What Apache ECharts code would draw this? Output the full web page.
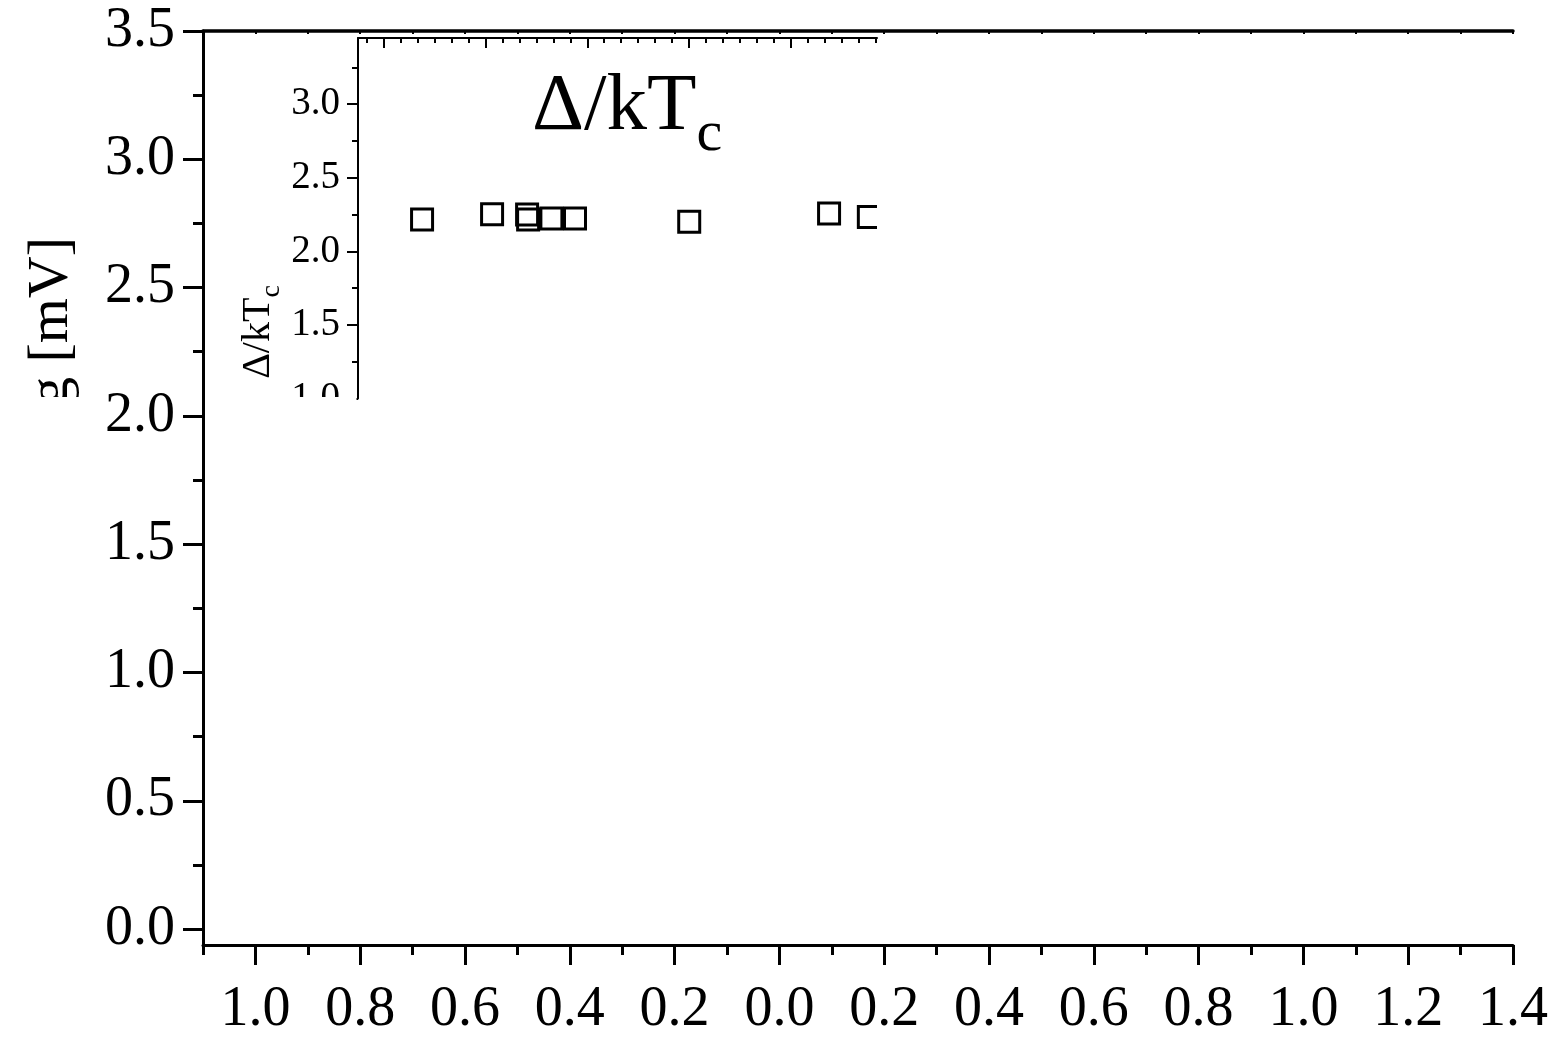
<!DOCTYPE html>
<html>
<head>
<meta charset="utf-8">
<script src="https://cdn.jsdelivr.net/npm/echarts@6.0.0/dist/echarts.min.js"></script>
<style>
  html, body { margin: 0; padding: 0; background: #ffffff; }
  #chart { width: 1558px; height: 1038px; }
</style>
</head>
<body>
<div id="chart"></div>
<script>
// ---- main panel ticks ----
const mainXMajor = [-1.0, -0.8, -0.6, -0.4, -0.2, 0.0, 0.2, 0.4, 0.6, 0.8, 1.0, 1.2, 1.4];
const mainXLabels = ['1.0', '0.8', '0.6', '0.4', '0.2', '0.0', '0.2', '0.4', '0.6', '0.8', '1.0', '1.2', '1.4'];
const mainXMinor = [-1.1, -0.9, -0.7, -0.5, -0.3, -0.1, 0.1, 0.3, 0.5, 0.7, 0.9, 1.1, 1.3];
const mainYMajor = [0.0, 0.5, 1.0, 1.5, 2.0, 2.5, 3.0, 3.5];
const mainYLabels = ['0.0', '0.5', '1.0', '1.5', '2.0', '2.5', '3.0', '3.5'];
const mainYMinor = [0.25, 0.75, 1.25, 1.75, 2.25, 2.75, 3.25];

// ---- inset ticks ----
const insetXMajor = [6, 12, 18, 24, 30];
const insetXMinor = [5, 7, 8, 9, 10, 11, 13, 14, 15, 16, 17, 19, 20, 21, 22, 23, 25, 26, 27, 28, 29, 31, 32, 33, 34, 35];
const insetYMajor = [1.0, 1.5, 2.0, 2.5, 3.0];
const insetYLabels = ['1.0', '1.5', '2.0', '2.5', '3.0'];
const insetYMinor = [1.25, 1.75, 2.25, 2.75, 3.25];

// ---- inset data: gap ratio ----
const insetX = [8.28, 12.40, 14.46, 14.52, 15.89, 17.28, 24.0, 32.23, 34.57];
const insetY = [2.216, 2.253, 2.250, 2.216, 2.223, 2.223, 2.202, 2.258, 2.233];

const FONT = '"Liberation Serif", "Times New Roman", serif';
const BLACK = '#000000';

function labelFor(values, labels) {
  return function (v) {
    const i = values.findIndex(function (t) { return Math.abs(t - v) < 1e-9; });
    return i >= 0 ? labels[i] : '';
  };
}

const chart = echarts.init(document.getElementById('chart'), null, { renderer: 'canvas' });

const option = {
  backgroundColor: '#ffffff',
  animation: false,
  grid: [
    { left: 203, top: 31, width: 1310, height: 922, containLabel: false },
    { left: 358, top: 38, width: 519, height: 360.5, containLabel: false }
  ],
  xAxis: [
    { // main bottom axis, major ticks + labels
      gridIndex: 0, type: 'value', position: 'bottom', min: -1.1, max: 1.4,
      axisLine: { show: true, onZero: false, lineStyle: { color: BLACK, width: 3 } },
      axisTick: { show: true, customValues: mainXMajor, length: 20, lineStyle: { color: BLACK, width: 3 } },
      axisLabel: { show: true, customValues: mainXMajor, formatter: labelFor(mainXMajor, mainXLabels),
        color: BLACK, fontFamily: FONT, fontSize: 56, margin: 37 },
      splitLine: { show: false }
    },
    { // main bottom axis, minor ticks
      gridIndex: 0, type: 'value', position: 'bottom', min: -1.1, max: 1.4,
      axisLine: { show: false, onZero: false },
      axisTick: { show: true, customValues: mainXMinor, length: 10, lineStyle: { color: BLACK, width: 3 } },
      axisLabel: { show: false },
      splitLine: { show: false }
    },
    { // main top border
      gridIndex: 0, type: 'value', position: 'top', min: -1.1, max: 1.4,
      axisLine: { show: true, onZero: false, lineStyle: { color: BLACK, width: 3.5 } },
      axisTick: { show: true, inside: true, customValues: mainXMajor.concat(mainXMinor), length: 3, lineStyle: { color: BLACK, width: 2 } },
      axisLabel: { show: false },
      splitLine: { show: false }
    },
    { // inset top axis, major ticks
      gridIndex: 1, type: 'value', position: 'top', min: 4.51, max: 35.05,
      axisLine: { show: true, onZero: false, lineStyle: { color: BLACK, width: 2 } },
      axisTick: { show: true, inside: true, customValues: insetXMajor, length: 10, lineStyle: { color: BLACK, width: 2 } },
      axisLabel: { show: false },
      splitLine: { show: false }
    },
    { // inset top axis, minor ticks
      gridIndex: 1, type: 'value', position: 'top', min: 4.51, max: 35.05,
      axisLine: { show: false, onZero: false },
      axisTick: { show: true, inside: true, customValues: insetXMinor, length: 5, lineStyle: { color: BLACK, width: 2 } },
      axisLabel: { show: false },
      splitLine: { show: false }
    }
  ],
  yAxis: [
    { // main left axis, major ticks + labels
      gridIndex: 0, type: 'value', position: 'left', min: -0.062, max: 3.5,
      axisLine: { show: true, onZero: false, lineStyle: { color: BLACK, width: 3 } },
      axisTick: { show: true, customValues: mainYMajor, length: 20, lineStyle: { color: BLACK, width: 3 } },
      axisLabel: { show: true, customValues: mainYMajor, formatter: labelFor(mainYMajor, mainYLabels),
        color: BLACK, fontFamily: FONT, fontSize: 56, margin: 28 },
      splitLine: { show: false }
    },
    { // main left axis, minor ticks
      gridIndex: 0, type: 'value', position: 'left', min: -0.062, max: 3.5,
      axisLine: { show: false, onZero: false },
      axisTick: { show: true, customValues: mainYMinor, length: 10, lineStyle: { color: BLACK, width: 3 } },
      axisLabel: { show: false },
      splitLine: { show: false }
    },
    { // inset left axis, major ticks + labels
      gridIndex: 1, type: 'value', position: 'left', min: 1.0, max: 3.45,
      axisLine: { show: true, onZero: false, lineStyle: { color: BLACK, width: 2 } },
      axisTick: { show: true, customValues: insetYMajor, length: 11, lineStyle: { color: BLACK, width: 2 } },
      axisLabel: { show: true, customValues: insetYMajor, formatter: labelFor(insetYMajor, insetYLabels),
        color: BLACK, fontFamily: FONT, fontSize: 39, margin: 18 },
      splitLine: { show: false }
    },
    { // inset left axis, minor ticks
      gridIndex: 1, type: 'value', position: 'left', min: 1.0, max: 3.45,
      axisLine: { show: false, onZero: false },
      axisTick: { show: true, customValues: insetYMinor, length: 6, lineStyle: { color: BLACK, width: 2 } },
      axisLabel: { show: false },
      splitLine: { show: false }
    }
  ],
  series: [
    { type: 'scatter', xAxisIndex: 0, yAxisIndex: 0, data: [], silent: true },
    {
      type: 'custom',
      xAxisIndex: 3,
      yAxisIndex: 2,
      clip: true,
      data: insetX.map(function (x, i) { return [x, insetY[i]]; }),
      renderItem: function (params, api) {
        const p = api.coord([api.value(0), api.value(1)]);
        const s = 21;
        return {
          type: 'rect',
          shape: { x: p[0] - s / 2, y: p[1] - s / 2, width: s, height: s },
          style: { fill: 'none', stroke: BLACK, lineWidth: 3 }
        };
      }
    }
  ],
  graphic: [
    { // main y-axis title
      type: 'text', z: 50, x: 52, y: 321.5, rotation: Math.PI / 2,
      style: { text: 'g [mV]', fill: BLACK, font: '58px ' + FONT, align: 'center', verticalAlign: 'middle' }
    },
    { // inset y-axis title
      type: 'text', z: 50, x: 258, y: 332, rotation: Math.PI / 2,
      style: {
        text: '{a|Δ/kT}{b|c}', fill: BLACK, align: 'center', verticalAlign: 'middle',
        rich: {
          a: { font: '40px ' + FONT, fontSize: 40, fontFamily: FONT, fill: BLACK, verticalAlign: 'middle' },
          b: { font: '28px ' + FONT, fontSize: 28, fontFamily: FONT, fill: BLACK, verticalAlign: 'middle', padding: [28, 0, 0, 0] }
        }
      }
    },
    { // inset heading
      type: 'text', z: 50, x: 532, y: 108,
      style: {
        text: '{a|Δ/kT}{b|c}', fill: BLACK, align: 'left', verticalAlign: 'middle',
        rich: {
          a: { font: '81px ' + FONT, fontSize: 81, fontFamily: FONT, fill: BLACK, verticalAlign: 'middle' },
          b: { font: '58px ' + FONT, fontSize: 58, fontFamily: FONT, fill: BLACK, verticalAlign: 'middle', padding: [54, 0, 0, 0] }
        }
      }
    },
    // the inset and the title are cut off along one horizontal edge
    { type: 'rect', z: 100, shape: { x: 0, y: 397, width: 96, height: 70 }, style: { fill: '#ffffff' } },
    { type: 'rect', z: 100, shape: { x: 218, y: 397, width: 138.5, height: 24 }, style: { fill: '#ffffff' } }
  ]
};

chart.setOption(option);
</script>
</body>
</html>
